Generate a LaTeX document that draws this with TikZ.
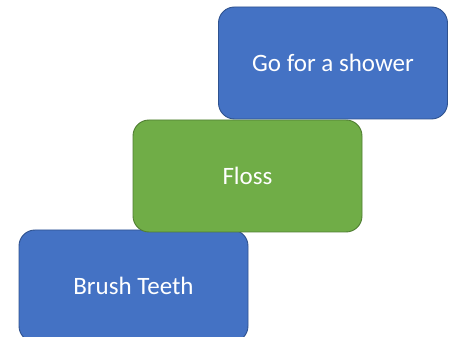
\documentclass[tikz,border=0pt]{standalone}
\usepackage{fontspec}
\setmainfont{Carlito}
\definecolor{stepblue}{HTML}{4472C4}
\definecolor{stepblueline}{HTML}{2F528F}
\definecolor{stepgreen}{HTML}{70AD47}
\definecolor{stepgreenline}{HTML}{507E32}
\begin{document}
\begin{tikzpicture}[x=1pt,y=-1pt,
  stepbox/.style={rounded corners=16pt, minimum width=229pt, minimum height=112pt,
    line width=0.9pt, text=white, font=\fontsize{25}{30}\selectfont, inner sep=0pt},
  bluebox/.style={stepbox, fill=stepblue, draw=stepblueline},
  greenbox/.style={stepbox, fill=stepgreen, draw=stepgreenline}]
  \useasboundingbox (0,0) rectangle (451,337);
  \clip (0,0) rectangle (451,337);
  % three steps of the routine, stacked diagonally
  \node[bluebox]  (brush)  at (133.5,286) {Brush Teeth};
  \node[greenbox] (floss)  at (247.5,176) {Floss};
  \node[bluebox]  (shower) at (333,63)    {Go for a shower};
\end{tikzpicture}
\end{document}
